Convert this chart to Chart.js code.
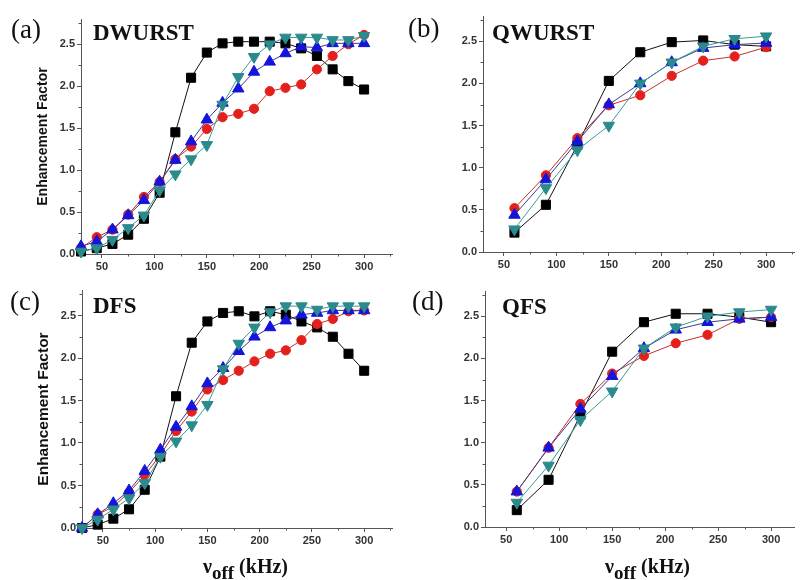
<!DOCTYPE html>
<html>
<head>
<meta charset="utf-8">
<script src="https://cdn.jsdelivr.net/npm/chart.js@4.4.0/dist/chart.umd.min.js"></script>
<style>
body{margin:0;background:#fff}
#wrap{position:relative;width:802px;height:580px;overflow:hidden}
.pane{position:absolute}
.lbl{position:absolute;font-family:'Liberation Serif','Times New Roman',serif;line-height:1;white-space:nowrap;color:#111}
.tag{font-size:27px}
.name{font-size:23px;font-weight:bold}
.xt{font-size:20px;font-weight:bold}
.xt sub{font-size:19px;vertical-align:-6px}
</style>
</head>
<body>
<div id="wrap">
  <canvas id="ca" class="pane" width="400" height="280" style="left:0;top:0"></canvas>
  <canvas id="cb" class="pane" width="402" height="280" style="left:400px;top:0"></canvas>
  <canvas id="cc" class="pane" width="400" height="300" style="left:0;top:280px"></canvas>
  <canvas id="cd" class="pane" width="402" height="300" style="left:400px;top:280px"></canvas>

  <div class="lbl tag" style="left:11px;top:16px">(a)</div>
  <div class="lbl name" style="left:93px;top:21px">DWURST</div>
  <div class="lbl tag" style="left:408px;top:15px">(b)</div>
  <div class="lbl name" style="left:492px;top:21px">QWURST</div>
  <div class="lbl tag" style="left:10px;top:288px">(c)</div>
  <div class="lbl name" style="left:93px;top:294px">DFS</div>
  <div class="lbl tag" style="left:412px;top:288px">(d)</div>
  <div class="lbl name" style="left:502px;top:295px">QFS</div>

  <div class="lbl xt" style="left:203px;top:556px">&nu;<sub>off</sub> (kHz)</div>
  <div class="lbl xt" style="left:605px;top:556px">&nu;<sub>off</sub> (kHz)</div>
</div>
<script>
// offset frequency, kHz
var xLeft = [30,45,60,75,90,105,120,135,150,165,180,195,210,225,240,255,270,285,300];
var xRight = [60,90,120,150,180,210,240,270,300];

var xMajor = [50,100,150,200,250,300];
var xMinor = [75,125,175,225,275,325];
var yMajor = [0,0.5,1.0,1.5,2.0,2.5];
var yMinor = [0.25,0.75,1.25,1.75,2.25,2.75];

// (a) DWURST
var dwurstBlack = [0.03,0.07,0.12,0.23,0.42,0.73,1.45,2.10,2.40,2.51,2.53,2.53,2.53,2.51,2.45,2.36,2.20,2.06,1.96];
var dwurstRed   = [0.07,0.20,0.29,0.47,0.68,0.86,1.13,1.28,1.49,1.63,1.67,1.73,1.94,1.98,2.02,2.20,2.36,2.50,2.61];
var dwurstBlue  = [0.09,0.15,0.29,0.46,0.64,0.86,1.12,1.34,1.60,1.80,1.97,2.17,2.29,2.39,2.47,2.46,2.51,2.51,2.51];
var dwurstTeal  = [0.03,0.07,0.17,0.31,0.46,0.76,0.95,1.13,1.30,1.78,2.11,2.35,2.50,2.58,2.58,2.58,2.55,2.55,2.60];

// (b) QWURST
var qwurstBlack = [0.23,0.56,1.27,2.03,2.37,2.49,2.51,2.46,2.44];
var qwurstRed   = [0.52,0.91,1.35,1.74,1.86,2.09,2.27,2.32,2.43];
var qwurstBlue  = [0.44,0.86,1.31,1.75,2.00,2.25,2.42,2.46,2.48];
var qwurstTeal  = [0.27,0.76,1.21,1.50,2.00,2.25,2.44,2.53,2.56];

// (c) DFS
var dfsBlack = [0.00,0.04,0.11,0.22,0.45,0.84,1.55,2.18,2.43,2.53,2.55,2.49,2.55,2.51,2.43,2.36,2.25,2.05,1.85];
var dfsRed   = [0.00,0.16,0.25,0.42,0.62,0.86,1.14,1.37,1.63,1.74,1.85,1.96,2.05,2.09,2.21,2.40,2.46,2.55,2.56];
var dfsBlue  = [0.00,0.16,0.29,0.44,0.67,0.92,1.19,1.43,1.70,1.88,2.08,2.25,2.36,2.44,2.51,2.53,2.56,2.56,2.56];
var dfsTeal  = [0.00,0.10,0.22,0.35,0.53,0.84,1.02,1.21,1.45,1.87,2.17,2.36,2.54,2.61,2.61,2.57,2.61,2.61,2.61];

// (d) QFS
var qfsBlack = [0.20,0.56,1.33,2.08,2.43,2.53,2.53,2.49,2.43];
var qfsRed   = [0.42,0.94,1.46,1.82,2.03,2.18,2.28,2.47,2.49];
var qfsBlue  = [0.42,0.94,1.40,1.79,2.12,2.34,2.43,2.47,2.49];
var qfsTeal  = [0.29,0.73,1.27,1.61,2.12,2.37,2.50,2.55,2.58];

// marker look for black, red, blue, teal
var markCols = ['#000000','#e3201c','#1414dc','#2a8a8c'];
var lineCols = ['#111111','#c6302a','#3a3a8e','#3c9a9a'];
var shapes = ['rect','circle','triangle','triangle'];
var radii = [6.4,4.6,6.6,6.6];
var rots = [0,0,0,180];
var orders = [4,3,2,1];

var axisCol = '#555';
var tickFont = {family:'Arial', weight:'bold', size:11};

var minorTicks = {
  id: 'minorTicks',
  afterDraw: function (chart) {
    var ctx = chart.ctx, xs = chart.scales.x, ys = chart.scales.y;
    ctx.save();
    ctx.strokeStyle = axisCol;
    ctx.lineWidth = 1;
    ctx.beginPath();
    xMinor.forEach(function (v) {
      if (v < xs.min || v > xs.max) return;
      var px = Math.round(xs.getPixelForValue(v)) + 0.5;
      ctx.moveTo(px, ys.bottom);
      ctx.lineTo(px, ys.bottom + 2.5);
    });
    yMinor.forEach(function (v) {
      var py = Math.round(ys.getPixelForValue(v)) + 0.5;
      ctx.moveTo(xs.left, py);
      ctx.lineTo(xs.left - 2.5, py);
    });
    ctx.stroke();
    ctx.restore();
  }
};

function makeChart(id, xs, series, geo) {
  var datasets = series.map(function (s, i) {
    return {
      data: xs.map(function (x, j) { return {x: x, y: s[j]}; }),
      borderColor: lineCols[i],
      borderWidth: 1,
      backgroundColor: markCols[i],
      pointBackgroundColor: markCols[i],
      pointBorderColor: markCols[i],
      pointBorderWidth: 1,
      pointStyle: shapes[i],
      pointRadius: radii[i],
      pointRotation: rots[i],
      order: orders[i],
      tension: 0,
      clip: false
    };
  });
  var yTitle = {display: false};
  if (geo.title) {
    yTitle = {
      display: true,
      text: 'Enhancement Factor',
      font: {family: 'Arial', weight: 'bold', size: geo.titleSize},
      color: '#111',
      padding: {top: geo.titlePad, bottom: 0}
    };
  }
  return new Chart(document.getElementById(id), {
    type: 'line',
    data: {datasets: datasets},
    options: {
      responsive: false,
      animation: false,
      layout: {padding: {top: geo.top, right: geo.right, left: 0, bottom: 0}},
      plugins: {legend: {display: false}, tooltip: {enabled: false}},
      scales: {
        x: {
          type: 'linear',
          min: 30,
          max: geo.xmax,
          afterBuildTicks: function (s) { s.ticks = xMajor.map(function (v) { return {value: v}; }); },
          afterFit: function (s) { s.height = geo.xh; },
          ticks: {font: tickFont, color: '#333', padding: 2, maxRotation: 0, autoSkip: false},
          grid: {drawOnChartArea: false, tickLength: 4, color: axisCol},
          border: {color: axisCol}
        },
        y: {
          min: 0,
          max: 2.8,
          afterBuildTicks: function (s) { s.ticks = yMajor.map(function (v) { return {value: v}; }); },
          afterFit: function (s) { s.width = geo.yw; },
          ticks: {font: tickFont, color: '#333', padding: 2, callback: function (v) { return v.toFixed(1); }},
          grid: {drawOnChartArea: false, tickLength: 4, color: axisCol},
          border: {color: axisCol},
          title: yTitle
        }
      }
    },
    plugins: [minorTicks]
  });
}

makeChart('ca', xLeft, [dwurstBlack, dwurstRed, dwurstBlue, dwurstTeal],
  {top: 19, right: 3, yw: 81, xh: 26, xmax: 327, title: true, titleSize: 14, titlePad: 35});
makeChart('cb', xRight, [qwurstBlack, qwurstRed, qwurstBlue, qwurstTeal],
  {top: 16, right: 1, yw: 83, xh: 28, xmax: 327, title: false});
makeChart('cc', xLeft, [dfsBlack, dfsRed, dfsBlue, dfsTeal],
  {top: 10, right: 1, yw: 82, xh: 52, xmax: 327, title: true, titleSize: 15.5, titlePad: 34});
makeChart('cd', xRight, [qfsBlack, qfsRed, qfsBlue, qfsTeal],
  {top: 11, right: 0, yw: 85, xh: 53, xmax: 322, title: false});
</script>
</body>
</html>
